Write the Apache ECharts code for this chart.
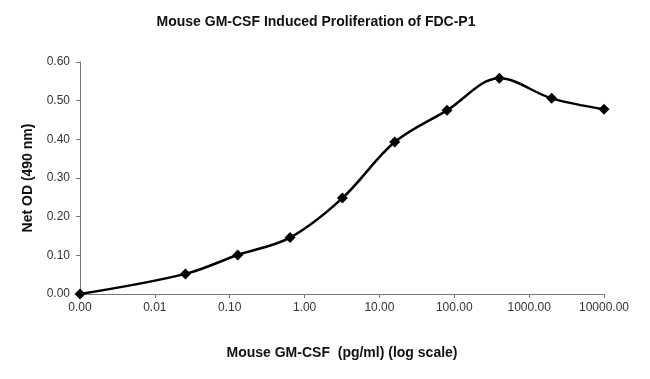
<!DOCTYPE html>
<html>
<head>
<meta charset="utf-8">
<script src="https://cdn.jsdelivr.net/npm/echarts@6/dist/echarts.min.js"></script>
<style>html,body{margin:0;padding:0;background:#fff}#c{width:650px;height:379px}</style>
</head>
<body>
<div id="c"></div>
<script>
// concentrations (pg/ml); 0 is plotted at 0.001 (labelled 0.00)
var concentrations = [0.001, 0.0256, 0.128, 0.64, 3.2, 16, 80, 400, 2000, 10000];
var netOD = [0.000, 0.052, 0.101, 0.146, 0.248, 0.393, 0.475, 0.558, 0.506, 0.478];
var yTicks = [0, 0.1, 0.2, 0.3, 0.4, 0.5, 0.6];

var chart = echarts.init(document.getElementById('c'), null, {renderer: 'canvas'});
var font = 'Liberation Sans, Arial, sans-serif';
chart.setOption({
  animation: false,
  backgroundColor: '#fff',
  title: {
    text: 'Mouse GM-CSF Induced Proliferation of FDC-P1',
    left: 311, top: 10, textAlign: 'center',
    textStyle: {fontFamily: font, fontSize: 14, fontWeight: 'bold', color: '#111'}
  },
  grid: {left: 80, right: 46, top: 62, bottom: 85},
  xAxis: {
    type: 'log', logBase: 10, min: 0.001, max: 10000, interval: 1,
    name: 'Mouse GM-CSF  (pg/ml) (log scale)',
    nameLocation: 'middle', nameGap: 52,
    nameTextStyle: {fontFamily: font, fontSize: 14, fontWeight: 'bold', color: '#111'},
    axisLine: {lineStyle: {color: '#777', width: 1}},
    axisTick: {show: true, length: 4, lineStyle: {color: '#777'}},
    splitLine: {show: false},
    minorTick: {show: false},
    axisLabel: {fontFamily: font, fontSize: 12, color: '#333', margin: 8,
      formatter: function (v) { return Number(v).toFixed(2); }}
  },
  yAxis: {
    type: 'value', min: 0, max: 0.6, interval: 0.1,
    name: 'Net OD (490 nm)',
    nameLocation: 'middle', nameGap: 45,
    nameTextStyle: {fontFamily: font, fontSize: 14, fontWeight: 'bold', color: '#111'},
    axisLine: {show: true, lineStyle: {color: '#777', width: 1}},
    axisTick: {show: true, length: 4, lineStyle: {color: '#777'}},
    splitLine: {show: false},
    axisLabel: {fontFamily: font, fontSize: 12, color: '#333', margin: 10,
      formatter: function (v) { return Number(v).toFixed(2); }}
  },
  series: [{
    type: 'line',
    data: concentrations.map(function (c, i) { return [c, netOD[i]]; }),
    smooth: 0.35,
    symbol: 'diamond', symbolSize: 11,
    itemStyle: {color: '#000'},
    lineStyle: {color: '#000', width: 2.5}
  }]
});
</script>
</body>
</html>
